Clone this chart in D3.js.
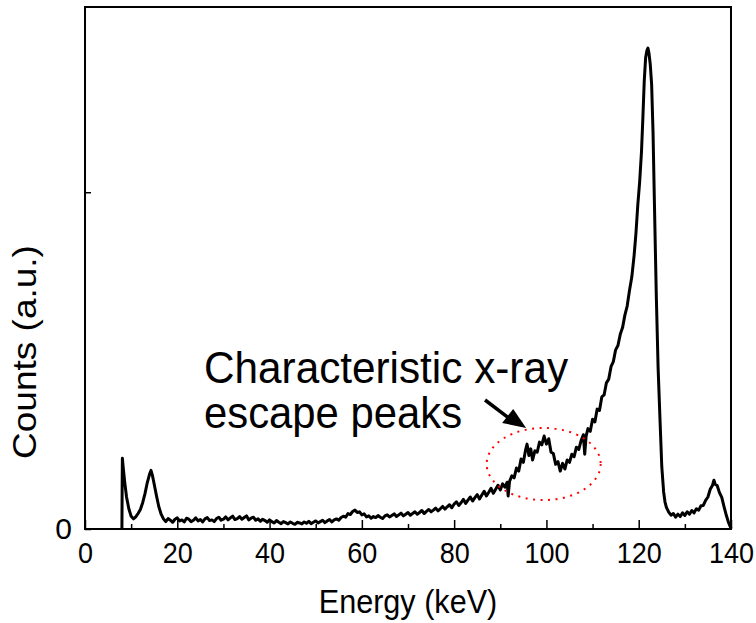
<!DOCTYPE html>
<html>
<head>
<meta charset="utf-8">
<script src="https://cdn.jsdelivr.net/npm/d3@7"></script>
<style>
  body { margin: 0; background: #fff; }
  text { font-family: "Liberation Sans", Arial, sans-serif; fill: #000; }
</style>
</head>
<body>
<svg id="chart" width="756" height="623"></svg>
<script>
// spectrum (energy in keV, counts in arbitrary units)
const energy = [
  8.0, 8.05, 8.1, 8.3, 8.6, 9.0, 9.5, 10.0, 10.5, 11.0, 11.5, 12.0, 12.5, 13.0, 13.5, 14.0, 14.3, 14.6, 15.0, 15.5, 16.0, 16.5,
  17.0, 17.5, 18.0, 18.5, 19.0, 19.5, 20.0, 20.5, 21.0, 21.5, 22.0, 22.5, 23.0, 23.5, 24.0, 24.5, 25.0, 25.5, 26.0, 26.5,
  27.0, 27.5, 28.0, 28.5, 29.0, 29.5, 30.0, 30.5, 31.0, 31.5, 32.0, 32.5, 33.0, 33.5, 34.0, 34.5, 35.0, 35.5, 36.0, 36.5,
  37.0, 37.5, 38.0, 38.5, 39.0, 39.5, 40.0, 40.5, 41.0, 41.5, 42.0, 42.5, 43.0, 43.5, 44.0, 44.5, 45.0, 45.5, 46.0, 46.5,
  47.0, 47.5, 48.0, 48.5, 49.0, 49.5, 50.0, 50.5, 51.0, 51.5, 52.0, 52.5, 53.0, 53.5, 54.0, 54.5, 55.0, 55.5, 56.0, 56.5,
  57.0, 57.5, 58.0, 58.5, 59.0, 59.5, 60.0, 60.5, 61.0, 61.5, 62.0, 62.5, 63.0, 63.5, 64.0, 64.5, 65.0, 65.5, 66.0, 66.5,
  67.0, 67.5, 68.0, 68.5, 69.0, 69.5, 70.0, 70.5, 71.0, 71.5, 72.0, 72.5, 73.0, 73.5, 74.0, 74.5, 75.0, 75.5, 76.0, 76.5,
  77.0, 77.5, 78.0, 78.5, 79.0, 79.5, 80.0, 80.5, 81.0, 81.5, 82.0, 82.5, 83.0, 83.5, 84.0, 84.5, 85.0, 85.5, 86.0, 86.5,
  87.0, 87.5, 88.0, 88.5, 89.0, 89.5, 90.0, 90.5, 91.0, 91.5, 91.7, 92.0, 92.5, 93.0, 93.5, 94.0, 94.5, 95.0, 95.5, 95.8,
  96.2, 96.6, 97.0, 97.5, 98.0, 98.5, 99.0, 99.5, 100.0, 100.5, 101.0, 101.5, 102.0, 102.5, 103.0, 103.5, 104.0, 104.5,
  105.0, 105.5, 106.0, 106.5, 107.0, 107.5, 108.0, 108.3, 108.6, 109.0, 109.5, 110.0, 110.5, 111.0, 111.5, 112.0, 112.5,
  113.0, 113.5, 114.0, 114.5, 115.0, 115.5, 116.0, 116.5, 117.0, 117.5, 118.0, 118.5, 119.0, 119.4, 119.8, 120.2, 120.6,
  120.9, 121.2, 121.5, 121.8, 122.0, 122.2, 122.5, 122.8, 123.1, 123.4, 123.8, 124.2, 124.6, 125.0, 125.4, 125.7, 126.0,
  126.5, 127.0, 127.5, 128.0, 128.5, 129.0, 129.5, 130.0, 130.5, 131.0, 131.5, 132.0, 132.5, 133.0, 133.5, 134.0, 134.5,
  135.0, 135.5, 136.0, 136.3, 136.6, 137.0, 137.5, 138.0, 138.5, 139.0, 139.5, 140.0
]
const counts = [
  0.000, 0.120, 0.210, 0.180, 0.140, 0.095, 0.060, 0.038, 0.030, 0.036, 0.046, 0.058, 0.078, 0.105, 0.138, 0.163, 0.174, 0.160, 0.133, 0.098, 0.066, 0.044,
  0.030, 0.022, 0.031, 0.026, 0.020, 0.029, 0.033, 0.024, 0.027, 0.021, 0.032, 0.029, 0.022, 0.026, 0.033, 0.024, 0.028, 0.021, 0.030, 0.034,
  0.025, 0.027, 0.022, 0.031, 0.035, 0.026, 0.029, 0.036, 0.027, 0.033, 0.038, 0.028, 0.031, 0.037, 0.029, 0.034, 0.039, 0.027, 0.032, 0.035,
  0.026, 0.030, 0.023, 0.029, 0.025, 0.020, 0.027, 0.022, 0.018, 0.025, 0.020, 0.016, 0.022, 0.019, 0.015, 0.021, 0.017, 0.014, 0.020, 0.018,
  0.015, 0.021, 0.017, 0.023, 0.016, 0.020, 0.024, 0.018, 0.022, 0.026, 0.019, 0.024, 0.028, 0.021, 0.027, 0.030, 0.026, 0.034, 0.038, 0.035,
  0.046, 0.043, 0.052, 0.056, 0.049, 0.051, 0.042, 0.045, 0.036, 0.039, 0.032, 0.037, 0.034, 0.040, 0.035, 0.031, 0.039, 0.042, 0.036, 0.040,
  0.045, 0.037, 0.042, 0.047, 0.039, 0.044, 0.049, 0.041, 0.046, 0.051, 0.044, 0.049, 0.055, 0.046, 0.052, 0.058, 0.051, 0.056, 0.062, 0.054,
  0.060, 0.067, 0.059, 0.066, 0.072, 0.063, 0.074, 0.081, 0.070, 0.078, 0.088, 0.076, 0.086, 0.095, 0.083, 0.093, 0.102, 0.089, 0.101, 0.112,
  0.098, 0.109, 0.121, 0.106, 0.118, 0.130, 0.116, 0.134, 0.124, 0.139, 0.098, 0.141, 0.158, 0.152, 0.181, 0.172, 0.208, 0.198, 0.236, 0.252,
  0.218, 0.238, 0.205, 0.232, 0.228, 0.258, 0.250, 0.276, 0.252, 0.268, 0.228, 0.224, 0.192, 0.200, 0.172, 0.195, 0.178, 0.205,
  0.198, 0.222, 0.215, 0.243, 0.236, 0.262, 0.280, 0.222, 0.276, 0.298, 0.290, 0.326, 0.318, 0.356, 0.352, 0.392, 0.398,
  0.434, 0.445, 0.482, 0.497, 0.532, 0.545, 0.578, 0.598, 0.635, 0.662, 0.708, 0.748, 0.812, 0.878, 0.962, 1.030, 1.120,
  1.220, 1.330, 1.400, 1.422, 1.428, 1.415, 1.380, 1.320, 1.180, 0.970, 0.700, 0.480, 0.330, 0.185, 0.110, 0.080, 0.064,
  0.050, 0.041, 0.046, 0.035, 0.044, 0.037, 0.048, 0.040, 0.051, 0.044, 0.055, 0.048, 0.060, 0.056, 0.069, 0.070, 0.085,
  0.095, 0.118, 0.130, 0.145, 0.132, 0.129, 0.108, 0.094, 0.066, 0.040, 0.018, 0.002
]

const xMajorTicks = [0, 20, 40, 60, 80, 100, 120, 140]
const xMinorTicks = [10, 30, 50, 70, 90, 110, 130]
const yTicks = [0, 1]
const yTickLabels = ["0", ""]

const annotationLines = ["Characteristic x-ray", "escape peaks"]

const width = 756
const height = 623
const margin = { top: 7, right: 25, bottom: 94, left: 85 }

const svg = d3.select("#chart")

const x = d3.scaleLinear()
    .domain([0, 140])
    .range([margin.left, width - margin.right])

const y = d3.scaleLinear()
    .domain([0, 1.55])
    .range([height - margin.bottom, margin.top])

const squeeze = 0.9   // the original lettering is a bit narrow

// minor x ticks (inward, no labels)
svg.append("g")
    .attr("transform", `translate(0,${y(0)})`)
    .call(d3.axisBottom(x).tickValues(xMinorTicks).tickSize(-5).tickFormat(""))
    .call(g => g.select(".domain").remove())
    .call(g => g.selectAll("line").attr("stroke", "#000").attr("stroke-width", 1.5))

// major x ticks
svg.append("g")
    .attr("transform", `translate(0,${y(0)})`)
    .call(d3.axisBottom(x).tickValues(xMajorTicks).tickSize(-9).tickPadding(13).tickFormat(d3.format("d")))
    .call(g => g.select(".domain").remove())
    .call(g => g.selectAll("line").attr("stroke", "#000").attr("stroke-width", 1.5))
    .call(g => g.selectAll("text")
        .attr("font-size", 30)
        .attr("font-family", "Liberation Sans, Arial, sans-serif")
        .attr("transform", `scale(${squeeze},1)`))

// y ticks
svg.append("g")
    .attr("transform", `translate(${x(0)},0)`)
    .call(d3.axisLeft(y).tickValues(yTicks).tickSize(-6).tickPadding(13)
        .tickFormat((d, i) => yTickLabels[i]))
    .call(g => g.select(".domain").remove())
    .call(g => g.selectAll("line").attr("stroke", "#000").attr("stroke-width", 1.5))
    .call(g => g.selectAll("text")
        .attr("font-size", 30)
        .attr("font-family", "Liberation Sans, Arial, sans-serif"))

// frame
svg.append("rect")
    .attr("x", x(0))
    .attr("y", y(1.55))
    .attr("width", x(140) - x(0))
    .attr("height", y(0) - y(1.55))
    .attr("fill", "none")
    .attr("stroke", "#000")
    .attr("stroke-width", 2)

// spectrum
const line = d3.line()
    .x((d, i) => x(energy[i]))
    .y(d => y(d))

svg.append("path")
    .datum(counts)
    .attr("d", line)
    .attr("fill", "none")
    .attr("stroke", "#000")
    .attr("stroke-width", 3)
    .attr("stroke-linejoin", "round")

// dotted ellipse around the escape peaks
svg.append("ellipse")
    .attr("cx", x(99.4))
    .attr("cy", y(0.193))
    .attr("rx", x(12.35) - x(0))
    .attr("ry", y(0) - y(0.107))
    .attr("fill", "none")
    .attr("stroke", "#ff0000")
    .attr("stroke-width", 2)
    .attr("stroke-dasharray", "2,5.5")

// arrow
svg.append("line")
    .attr("x1", x(86.7)).attr("y1", y(0.383))
    .attr("x2", x(91.8)).attr("y2", y(0.33))
    .attr("stroke", "#000")
    .attr("stroke-width", 3.5)

svg.append("polygon")
    .attr("points", [[x(95.6), y(0.30)], [x(90.4), y(0.315)], [x(92.8), y(0.356)]].join(" "))
    .attr("fill", "#000")

// annotation text
svg.append("text")
    .attr("x", x(25.8))
    .attr("y", y(0.433))
    .attr("font-size", 44)
    .attr("textLength", 364)
    .attr("lengthAdjust", "spacingAndGlyphs")
    .text(annotationLines[0])

svg.append("text")
    .attr("x", x(25.8))
    .attr("y", y(0.30))
    .attr("font-size", 44)
    .attr("textLength", 258)
    .attr("lengthAdjust", "spacingAndGlyphs")
    .text(annotationLines[1])

// axis titles
svg.append("text")
    .attr("transform", `translate(${x(70)},613) scale(${squeeze},1)`)
    .attr("text-anchor", "middle")
    .attr("font-size", 34)
    .text("Energy (keV)")

svg.append("text")
    .attr("transform", `translate(36,352) rotate(-90) scale(1,${squeeze})`)
    .attr("text-anchor", "middle")
    .attr("font-size", 37)
    .text("Counts (a.u.)")
</script>
</body>
</html>
